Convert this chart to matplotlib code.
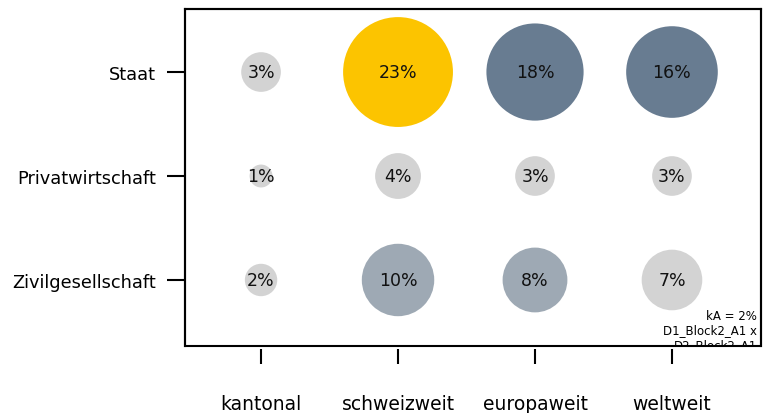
import matplotlib
matplotlib.use("Agg")
from matplotlib import pyplot as plt
from matplotlib.patches import Rectangle

# Daten
ebenen = ["kantonal", "schweizweit", "europaweit", "weltweit"]
akteure = ["Staat", "Privatwirtschaft", "Zivilgesellschaft"]
staat = [3, 23, 18, 16]
privat = [1, 4, 3, 3]
zivil = [2, 10, 8, 7]
farben_staat = ["#d3d3d3", "#fcc400", "#687c91", "#687c91"]
farben_privat = ["#d3d3d3", "#d3d3d3", "#d3d3d3", "#d3d3d3"]
farben_zivil = ["#d3d3d3", "#9ea9b4", "#9ea9b4", "#d3d3d3"]
fussnote = "kA = 2%\nD1_Block2_A1 x\nD2_Block2_A1"

plt.rcParams["font.family"] = "DejaVu Sans"

fig = plt.figure(figsize=(7.63, 4.14), dpi=100)
ax = fig.add_axes([0.2425, 0.1618, 0.7549, 0.814])

zeilen = [staat, privat, zivil]
farben = [farben_staat, farben_privat, farben_zivil]
for i, (werte, cols) in enumerate(zip(zeilen, farben)):
    y = len(zeilen) - 1 - i
    xs = list(range(len(werte)))
    ax.scatter(xs, [y] * len(werte), s=[v * 272 for v in werte], c=cols,
               edgecolors="none", zorder=2)
    for x, v in zip(xs, werte):
        ax.text(x, y, f"{v}%", ha="center", va="center", fontsize=12.5,
                color="#111111", zorder=3)

ax.set_xlim(-0.555, 3.65)
ax.set_ylim(-0.635, 2.606)
ax.set_xticks(range(len(ebenen)))
ax.set_xticklabels(ebenen)
ax.set_yticks([2, 1, 0])
ax.set_yticklabels(akteure)
ax.tick_params(axis="x", length=11, width=1.5, pad=21, labelsize=13.5)
ax.tick_params(axis="y", length=13, width=1.5, pad=8, labelsize=12.8)

# Rahmen, untere Achse etwas nach unten versetzt
ax.spines["bottom"].set_position(("outward", 2.5))
ax.spines["bottom"].set_visible(False)
for s in ["left", "top", "right"]:
    ax.spines[s].set_linewidth(1.5)
ax.add_patch(Rectangle((0, 0), 1, 1, transform=ax.transAxes, fill=False,
                       lw=1.5, ec="black", clip_on=False, zorder=4))

ax.text(0.993, 0.11, fussnote, transform=ax.transAxes, ha="right", va="top",
        fontsize=8.5, linespacing=1.15, clip_on=True, zorder=3)

fig.savefig("out.png", dpi=100)
